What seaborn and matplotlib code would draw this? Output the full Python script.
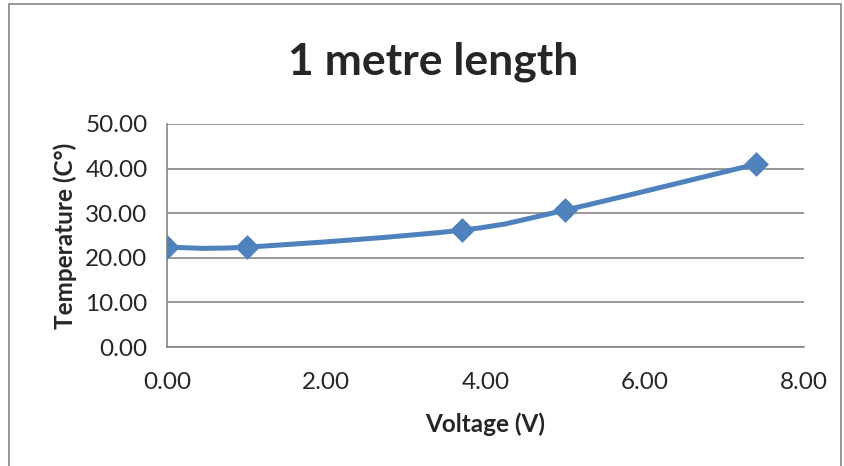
import numpy as np
import matplotlib
matplotlib.use("Agg")
import matplotlib.pyplot as plt
from matplotlib.path import Path
from matplotlib.patches import PathPatch, Rectangle
import seaborn as sns

# data
voltage = [0.0, 1.0, 3.7, 5.0, 7.4]
temperature = [22.4, 22.4, 26.2, 30.7, 41.0]
x_ticks = [0, 2, 4, 6, 8]
y_ticks = [0, 10, 20, 30, 40, 50]

blue = '#4F81BD'
grey = '#868686'

sns.set_style("white")
plt.rcParams['font.family'] = ['Lato', 'DejaVu Sans']

fig = plt.figure(figsize=(8.45, 4.66), dpi=100)
ax = fig.add_axes([167 / 845, 1 - 347 / 466, (804 - 167) / 845, (347 - 124) / 466])

# outer chart border like Excel
fig.patches.append(Rectangle((9 / 845, -0.05), (841 - 9) / 845, 1.05 - 4 / 466,
                             transform=fig.transFigure, fill=False,
                             edgecolor=grey, linewidth=1.2))

# Excel style smoothed line (cardinal bezier, tension 1/6)
pts = np.column_stack([voltage, temperature])
ext = np.vstack([pts[0], pts, pts[-1]])
verts = [pts[0]]
codes = [Path.MOVETO]
for i in range(len(pts) - 1):
    p0, p1, p2, p3 = ext[i], ext[i + 1], ext[i + 2], ext[i + 3]
    c1 = p1 + (p2 - p0) / 6
    c2 = p2 - (p3 - p1) / 6
    verts += [c1, c2, p2]
    codes += [Path.CURVE4] * 3
ax.add_patch(PathPatch(Path(verts, codes), facecolor='none', edgecolor=blue,
                       linewidth=3.6, capstyle='round', joinstyle='round', zorder=3))

sns.scatterplot(x=voltage, y=temperature, marker='D', s=160, color=blue,
                edgecolor=blue, linewidth=0, ax=ax, zorder=4)

ax.set_xlim(0, 8)
ax.set_ylim(0, 50)
ax.set_xticks(x_ticks)
ax.set_yticks(y_ticks)
ax.set_xticklabels([f'{v:.2f}' for v in x_ticks])
ax.set_yticklabels([f'{v:.2f}' for v in y_ticks])
ax.tick_params(axis='both', direction='out', length=5, width=1, color=grey,
               labelsize=17.5)
ax.tick_params(axis='y', pad=9)
ax.tick_params(axis='x', pad=13)

ax.yaxis.grid(True, color=grey, linewidth=1.2)
ax.set_axisbelow(True)
for side in ['top', 'right']:
    ax.spines[side].set_visible(False)
for side in ['left', 'bottom']:
    ax.spines[side].set_color(grey)
    ax.spines[side].set_linewidth(1.2)

ax.set_xlabel('Voltage (V)', fontsize=17.5, fontweight='bold', labelpad=14)
ax.set_ylabel('Temperature (C°)', fontsize=17.5, fontweight='bold', labelpad=6)
fig.text(433 / 845, 1 - 62 / 466, '1 metre length', fontsize=32,
         fontweight='bold', ha='center', va='center')

fig.savefig('out.png', dpi=100)
